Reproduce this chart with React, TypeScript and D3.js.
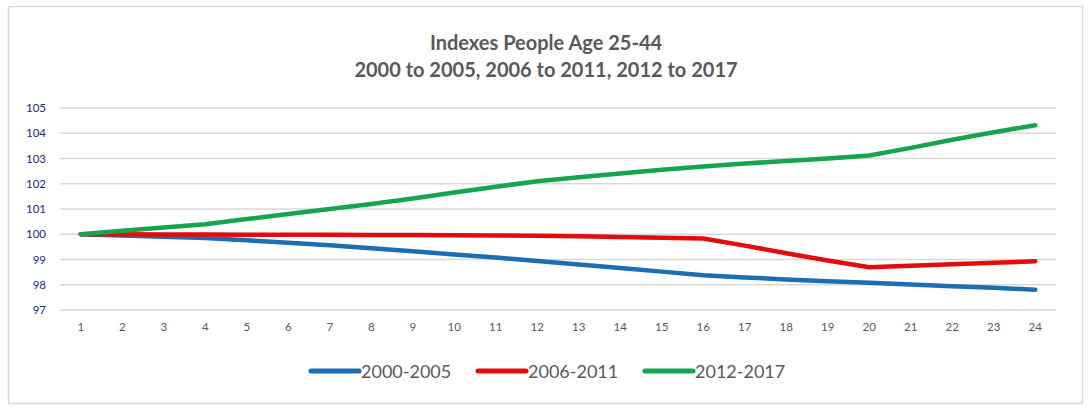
import React from 'react';
import * as d3 from 'd3';

const periods = Array.from({ length: 24 }, (_, i) => String(i + 1));
const yTicks = [97, 98, 99, 100, 101, 102, 103, 104, 105];

const seriesNames = ['2000-2005', '2006-2011', '2012-2017'];
const seriesColors = ['#1B6DB4', '#E30B0B', '#14A64C'];

const values2000 = [
  100, 99.95, 99.9, 99.85, 99.76, 99.66, 99.56, 99.45, 99.33, 99.2, 99.08, 98.94,
  98.8, 98.66, 98.52, 98.38, 98.29, 98.21, 98.14, 98.08, 98.01, 97.94, 97.88, 97.8,
];
const values2006 = [
  100, 100, 99.99, 99.99, 99.98, 99.98, 99.98, 99.97, 99.97, 99.96, 99.95, 99.94,
  99.92, 99.89, 99.86, 99.83, 99.55, 99.25, 98.96, 98.69, 98.75, 98.81, 98.87, 98.93,
];
const values2012 = [
  100, 100.14, 100.27, 100.4, 100.6, 100.8, 101.0, 101.2, 101.42, 101.65, 101.88, 102.1,
  102.26, 102.41, 102.55, 102.68, 102.8, 102.9, 103.0, 103.12, 103.42, 103.74, 104.04, 104.32,
];
const seriesValues = [values2000, values2006, values2012];

const W = 1092;
const H = 412;
const font = 'Lato, "Open Sans", sans-serif';

const App: React.FC = () => {
  const x = d3.scaleBand().domain(periods).range([60, 1056]);
  const y = d3.scaleLinear().domain([97, 105]).range([310, 108]);
  const cx = (p: string) => (x(p) as number) + x.bandwidth() / 2;

  const line = d3
    .line<number>()
    .x((_, i) => cx(periods[i]))
    .y((d) => y(d));

  const legendX = [311, 478, 645];

  return (
    <svg width={W} height={H} style={{ position: 'absolute', left: 0, top: 0 }}>
      <rect x={0} y={0} width={W} height={H} fill="#fff" />
      <rect x={8.5} y={6.5} width={1074} height={397} fill="none" stroke="#D9D9D9" strokeWidth={1.5} />

      <g fontFamily={font} fontWeight="bold" fontSize={20} fill="#595959" textAnchor="middle">
        <text x={546} y={50}>Indexes People Age 25-44</text>
        <text x={546} y={77}>2000 to 2005, 2006 to 2011, 2012 to 2017</text>
      </g>

      <g>
        {yTicks.map((t) => (
          <g key={t}>
            <line x1={60} x2={1056} y1={y(t)} y2={y(t)} stroke="#D9D9D9" strokeWidth={1.3} />
            <text
              x={46}
              y={y(t)}
              dy="0.35em"
              textAnchor="end"
              fontFamily={font}
              fontSize={11.5}
              fill="#1F2A7A"
            >
              {t}
            </text>
          </g>
        ))}
      </g>

      <g fontFamily={font} fontSize={11.5} fill="#595959" textAnchor="middle">
        {periods.map((p) => (
          <text key={p} x={cx(p)} y={331}>
            {p}
          </text>
        ))}
      </g>

      {seriesValues.map((vals, i) => (
        <path
          key={seriesNames[i]}
          d={line(vals) || ''}
          fill="none"
          stroke={seriesColors[i]}
          strokeWidth={4.5}
          strokeLinecap="round"
          strokeLinejoin="round"
        />
      ))}

      <g fontFamily={font} fontSize={18} fill="#595959">
        {seriesNames.map((n, i) => (
          <g key={n}>
            <line
              x1={legendX[i]}
              x2={legendX[i] + 48}
              y1={371}
              y2={371}
              stroke={seriesColors[i]}
              strokeWidth={5}
              strokeLinecap="round"
            />
            <text x={legendX[i] + 50} y={377.5}>
              {n}
            </text>
          </g>
        ))}
      </g>
    </svg>
  );
};

export default App;
